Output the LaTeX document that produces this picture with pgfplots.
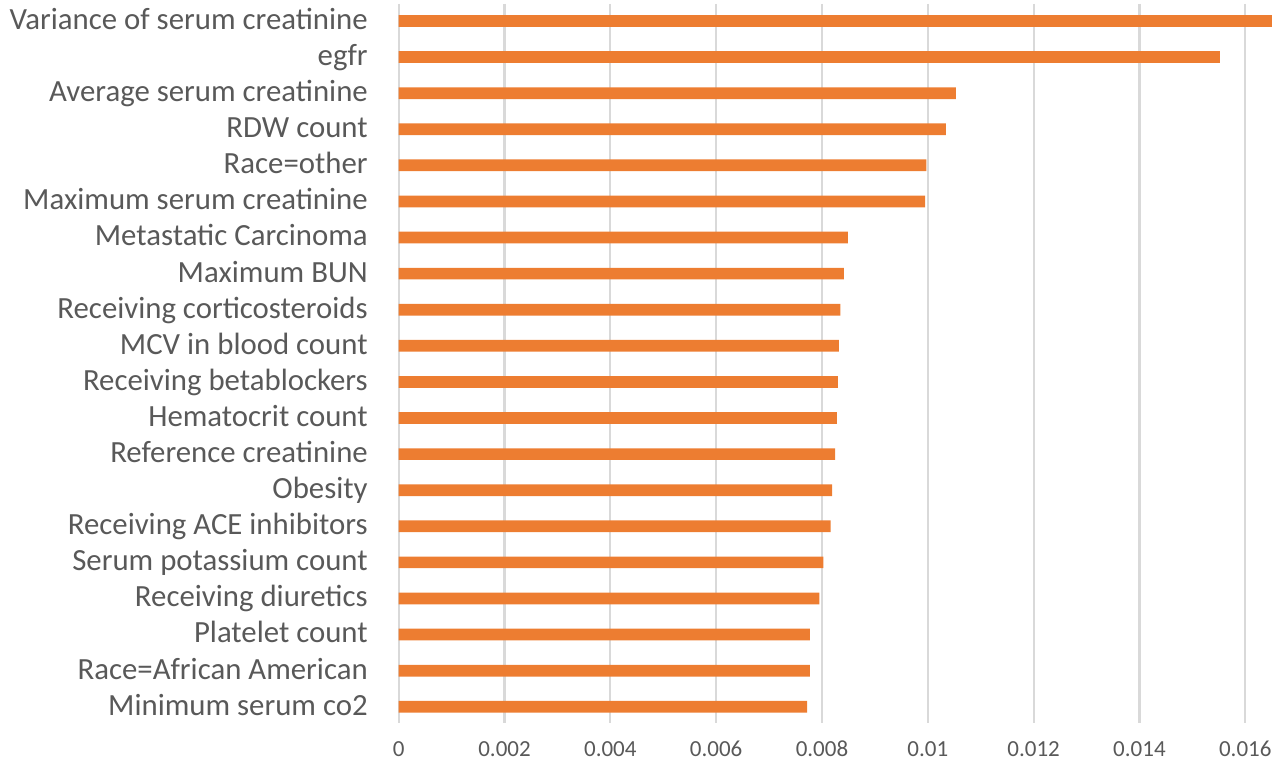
\documentclass[border=0pt]{standalone}
\usepackage{pgfplots}
\pgfplotsset{compat=1.18}
\usepackage{fontspec}
\setmainfont{Carlito}
\usetikzlibrary{calc}
\definecolor{barorange}{HTML}{ED7D31}
\definecolor{gridgray}{HTML}{D9D9D9}
\definecolor{txtgray}{HTML}{595959}
\begin{document}
\begin{tikzpicture}
\begin{axis}[
    name=a,
    xbar,
    scale only axis,
    width=436.65pt,
    height=359.5pt,
    xmin=0, xmax=0.016505,
    ymin=-0.47, ymax=19.45,
    y dir=reverse,
    bar width=5.85pt,
    xtick={0,0.002,0.004,0.006,0.008,0.01,0.012,0.014,0.016},
    xticklabels={0,0.002,0.004,0.006,0.008,0.01,0.012,0.014,0.016},
    ytick={0,...,19},
    yticklabels={Variance of serum creatinine, egfr, Average serum creatinine, RDW count, Race=other, Maximum serum creatinine, Metastatic Carcinoma, Maximum BUN, Receiving corticosteroids, MCV in blood count, Receiving betablockers, Hematocrit count, Reference creatinine, Obesity, Receiving ACE inhibitors, Serum potassium count, Receiving diuretics, Platelet count, Race=African American, Minimum serum co2},
    xmajorgrids,
    grid style={gridgray, line width=1.1pt},
    axis line style={draw=none},
    major tick length=0pt,
    y tick label style={font=\fontsize{15.4}{18}\selectfont, text=txtgray, anchor=base east, inner sep=0pt, xshift=-15.3pt, yshift=-4.2pt},
    x tick label style={font=\fontsize{11.5}{14}\selectfont, text=txtgray, anchor=base, inner sep=0pt, yshift=-16.8pt},
]
\addplot[fill=barorange, draw=none] coordinates {
    (0.0166,0) (0.01552,1) (0.01053,2) (0.01034,3) (0.009975,4)
    (0.00995,5) (0.00849,6) (0.008415,7) (0.008346,8) (0.00832,9)
    (0.0083,10) (0.00828,11) (0.00825,12) (0.00819,13) (0.008164,14)
    (0.008025,15) (0.00795,16) (0.00777,17) (0.00777,18) (0.00772,19)
};
\end{axis}
\pgfresetboundingbox
\path[use as bounding box] ($(a.south west)+(-199.35pt,-21pt)$) rectangle ($(a.north east)+(0pt,2pt)$);
\end{tikzpicture}
\end{document}
